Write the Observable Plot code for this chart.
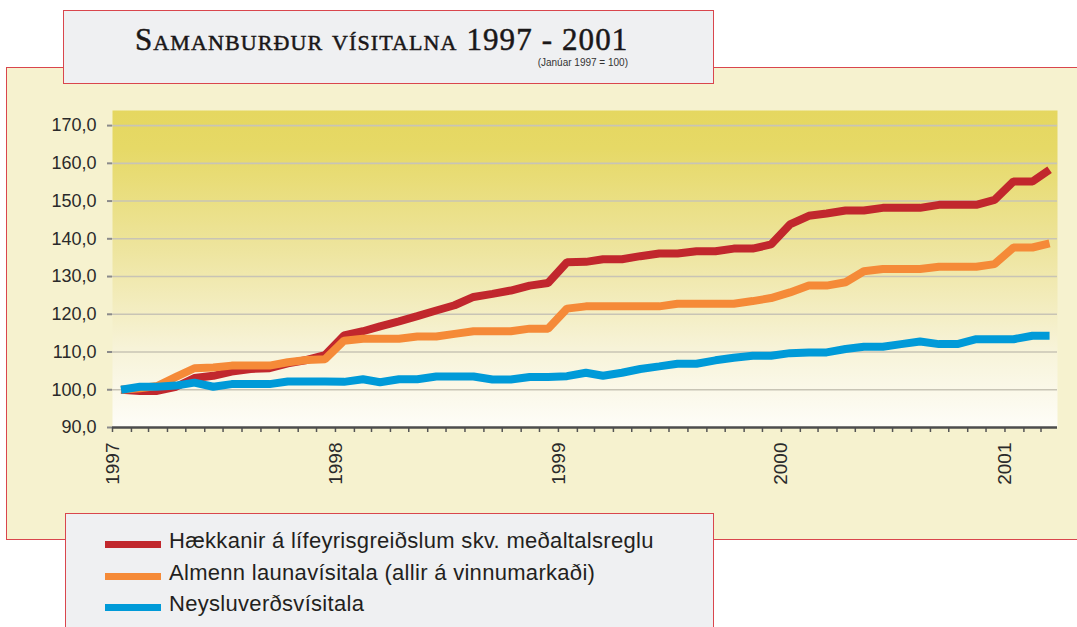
<!DOCTYPE html>
<html>
<head>
<meta charset="utf-8">
<script src="https://cdn.jsdelivr.net/npm/d3@7"></script>
<script src="https://cdn.jsdelivr.net/npm/@observablehq/plot@0.6"></script>
<style>
  html, body { margin: 0; padding: 0; background: #ffffff; }
  body { position: relative; width: 1077px; height: 627px; overflow: hidden; font-family: "Liberation Sans", Arial, sans-serif; }
  #panel { position: absolute; left: 6px; top: 67px; width: 1090px; height: 473px; background: #f6f2cf; border: 1.5px solid #d9464d; box-sizing: border-box; }
  #chart { position: absolute; left: 0; top: 0; }
  #titlebox { position: absolute; left: 63px; top: 10px; width: 651px; height: 74px; background: #eff0f2; border: 1.5px solid #d9464d; box-sizing: border-box; }
  #title { position: absolute; left: 135px; top: 25px; font-family: "Liberation Serif", "Times New Roman", serif; font-size: 31px; line-height: 30px; font-variant: small-caps; font-weight: normal; color: #1a1718; white-space: nowrap; letter-spacing: 1.1px; -webkit-text-stroke: 0.5px #1a1718; }
  #subtitle { position: absolute; right: 449px; top: 58px; font-size: 10px; line-height: 10px; color: #333; white-space: nowrap; }
  #legendbox { position: absolute; left: 65px; top: 513px; width: 649px; height: 130px; background: #eff0f2; border: 1.5px solid #d9464d; box-sizing: border-box; }
  .sw { position: absolute; left: 105px; width: 56px; height: 7.5px; }
  .lt { position: absolute; left: 169px; font-size: 22px; line-height: 22px; color: #231f20; white-space: nowrap; letter-spacing: 0.3px; }
</style>
</head>
<body>
<div id="panel"></div>
<div id="chart"></div>
<div id="titlebox"></div>
<div id="title"></div>
<div id="subtitle"></div>
<div id="legendbox"></div>
<div id="legend"></div>
<script>
// ---- data (monthly index, January 1997 = 100) ----
const seriesNames = [
  "Hækkanir á lífeyrisgreiðslum skv. meðaltalsreglu",
  "Almenn launavísitala (allir á vinnumarkaði)",
  "Neysluverðsvísitala"
];
const seriesColors = ["#c1272d", "#f58a38", "#009ad8"];

const lifeyrir = [100.0, 99.7, 99.7, 100.8, 103.1, 103.7, 104.8, 105.5, 105.7, 107.0, 107.9, 109.2,
  114.4, 115.5, 116.8, 118.1, 119.5, 121.0, 122.4, 124.6, 125.4, 126.3, 127.6, 128.3,
  133.8, 133.9, 134.6, 134.6, 135.4, 136.1, 136.1, 136.7, 136.7, 137.4, 137.4, 138.5,
  143.8, 146.1, 146.7, 147.5, 147.5, 148.2, 148.2, 148.2, 149.0, 149.0, 149.0, 150.3,
  155.2, 155.2, 158.3];
const launavisitala = [100.0, 100.4, 101.0, 103.4, 105.7, 105.9, 106.4, 106.4, 106.4, 107.3, 107.9, 108.1,
  113.0, 113.5, 113.5, 113.5, 114.1, 114.1, 114.8, 115.5, 115.5, 115.5, 116.2, 116.2,
  121.5, 122.1, 122.1, 122.1, 122.1, 122.1, 122.8, 122.8, 122.8, 122.8, 123.5, 124.3,
  125.8, 127.6, 127.6, 128.5, 131.4, 132.0, 132.0, 132.0, 132.6, 132.6, 132.6, 133.3,
  137.7, 137.7, 138.8];
const neysluverd = [100.0, 100.8, 100.8, 101.1, 101.9, 100.8, 101.5, 101.5, 101.5, 102.2, 102.2, 102.2,
  102.1, 102.8, 102.0, 102.8, 102.8, 103.5, 103.5, 103.5, 102.7, 102.7, 103.4, 103.4,
  103.6, 104.5, 103.7, 104.5, 105.5, 106.2, 106.9, 106.9, 107.8, 108.5, 109.0, 109.0,
  109.7, 109.9, 109.9, 110.8, 111.4, 111.4, 112.1, 112.8, 112.1, 112.1, 113.4, 113.4,
  113.4, 114.3, 114.3];

const yearLabels = ["1997", "1998", "1999", "2000", "2001"];
const yTicks = [90, 100, 110, 120, 130, 140, 150, 160, 170];
const gridValues = [100, 110, 120, 130, 140, 150, 160, 170];

const titleText = "Samanburður vísitalna 1997 - 2001";
const subtitleText = "(Janúar 1997 = 100)";

// ---- build table ----
const monthDate = i => new Date(Date.UTC(1997, i, 15));
const allSeries = [lifeyrir, launavisitala, neysluverd];
const rows = [];
allSeries.forEach((vals, s) => vals.forEach((v, i) => rows.push({series: seriesNames[s], date: monthDate(i), value: v})));

const xStart = new Date(Date.UTC(1997, 0, 1));
const xEnd = new Date(Date.UTC(2001, 2, 28));
const monthTicks = d3.utcMonths(xStart, xEnd);
const yearTicks = yearLabels.map(y => new Date(Date.UTC(+y, 0, 1)));

const fmt = d => d.toFixed(1).replace(".", ",");

const chart = Plot.plot({
  width: 1077,
  height: 500,
  marginLeft: 112,
  marginRight: 20,
  marginTop: 110,
  marginBottom: 73,
  style: {background: "transparent", fontFamily: "'Liberation Sans', Arial, sans-serif", overflow: "visible"},
  x: {type: "utc", domain: [xStart, xEnd], label: null},
  y: {domain: [90, 174], label: null},
  color: {domain: seriesNames, range: seriesColors},
  marks: [
    Plot.frame({fill: "url(#bggrad)", stroke: null}),
    Plot.ruleY(gridValues, {stroke: "#c8c4b5", strokeWidth: 1.6}),
    Plot.axisY({ticks: yTicks, label: null, tickSize: 5, tickPadding: 11, tickFormat: fmt, fontSize: 18, stroke: "#8a8a8a", strokeWidth: 2, fill: "#2a2a2a"}),
    Plot.axisX({ticks: monthTicks, label: null, tickSize: 5, tickFormat: () => "", stroke: "#555", strokeWidth: 1.5}),
    Plot.axisX({ticks: yearTicks, label: null, tickSize: 0, tickPadding: 15, tickRotate: -90, tickFormat: d => String(d.getUTCFullYear()), fontSize: 19, fill: "#2a2a2a"}),
    Plot.ruleY([90], {stroke: "#4d4d4d", strokeWidth: 2.5}),
    Plot.line(rows, {x: "date", y: "value", z: "series", stroke: "series", strokeWidth: 8, strokeLinejoin: "miter", strokeLinecap: "butt"})
  ]
});

// gradient definition for the plot background
const ns = "http://www.w3.org/2000/svg";
const defs = document.createElementNS(ns, "defs");
const grad = document.createElementNS(ns, "linearGradient");
grad.setAttribute("id", "bggrad");
grad.setAttribute("x1", "0"); grad.setAttribute("y1", "0");
grad.setAttribute("x2", "0"); grad.setAttribute("y2", "1");
[["0%", "#e5d760"], ["12%", "#e6d966"], ["45%", "#eee5a0"], ["75%", "#f7f3d8"], ["100%", "#fefdf8"]].forEach(([o, c]) => {
  const st = document.createElementNS(ns, "stop");
  st.setAttribute("offset", o); st.setAttribute("stop-color", c);
  grad.appendChild(st);
});
defs.appendChild(grad);
chart.insertBefore(defs, chart.firstChild);
document.getElementById("chart").appendChild(chart);

document.getElementById("title").textContent = titleText;
document.getElementById("subtitle").textContent = subtitleText;

// legend
const legend = document.getElementById("legend");
const baselines = [549, 581, 612];
seriesNames.forEach((name, i) => {
  const sw = document.createElement("div");
  sw.className = "sw";
  sw.style.top = (baselines[i] - 8.5) + "px";
  sw.style.background = seriesColors[i];
  legend.appendChild(sw);
  const t = document.createElement("div");
  t.className = "lt";
  t.style.top = (baselines[i] - 18.8) + "px";
  t.textContent = name;
  legend.appendChild(t);
});
</script>
</body>
</html>
